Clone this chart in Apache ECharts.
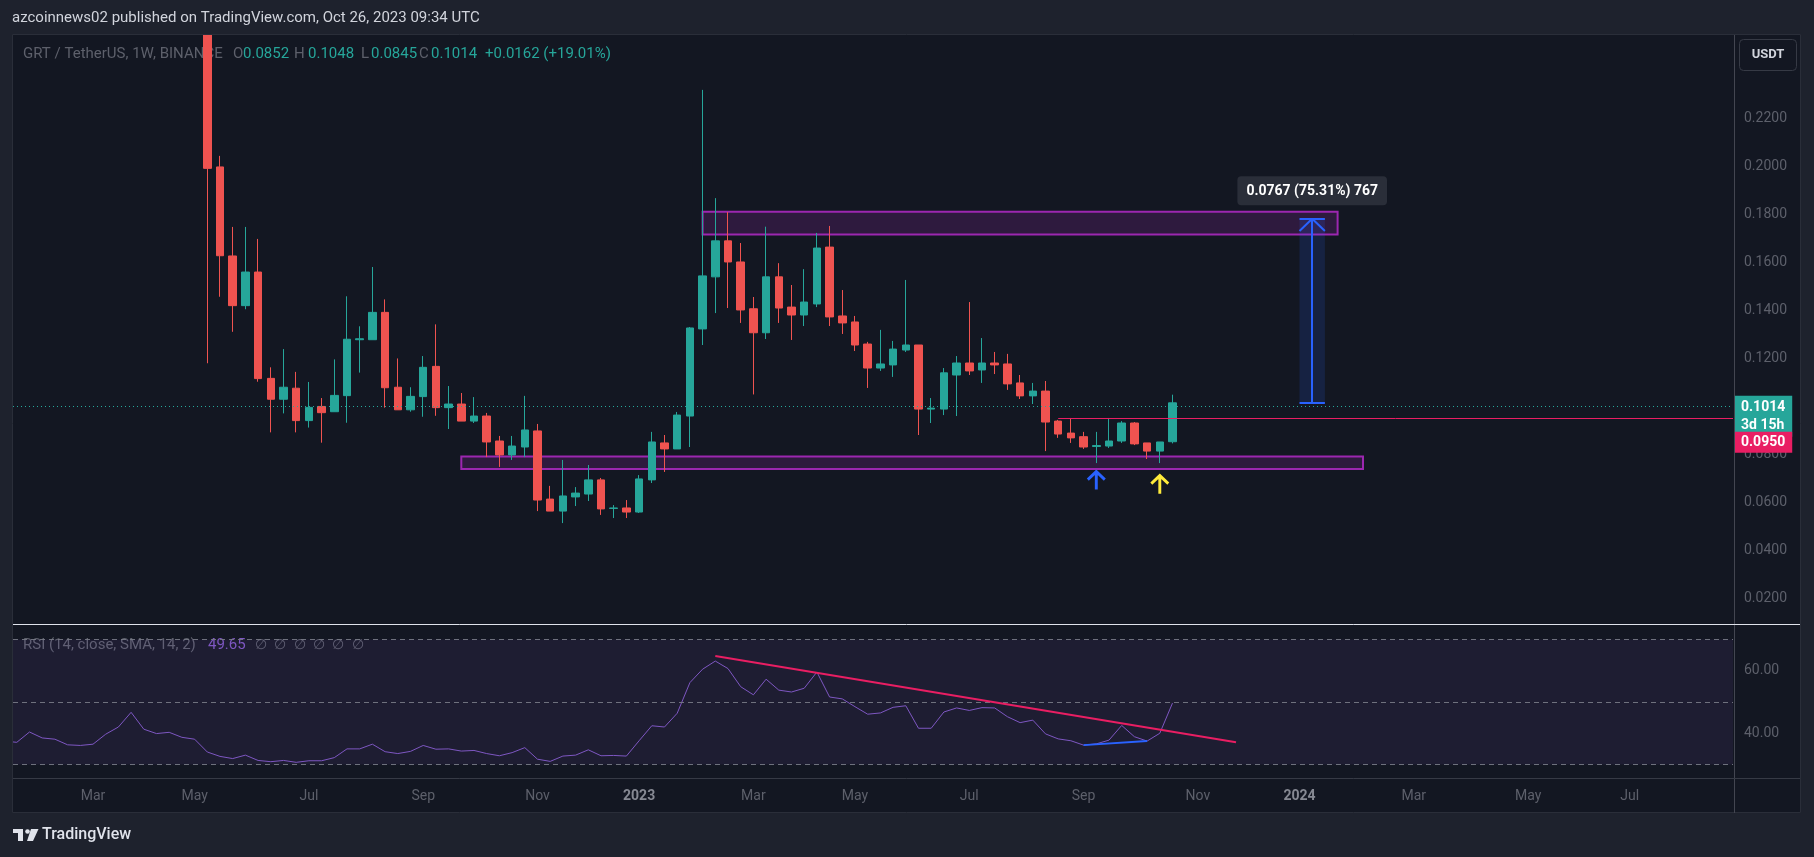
<!DOCTYPE html>
<html>
<head>
<meta charset="utf-8">
<script src="https://cdn.jsdelivr.net/npm/echarts@6.0.0/dist/echarts.min.js"></script>
<style>
html,body{margin:0;padding:0;background:#1e222d;overflow:hidden;}
#chart{width:1814px;height:857px;}
</style>
</head>
<body>
<div id="chart"></div>
<script>
// ------------------------------------------------------------------ data
const firstWeek = '2022-01-17';        // week index 0 (first RSI point)
const candleFirstWeek = '2022-05-09';  // first candle (weekly, Monday open)

const candleOpen = [0.2750,0.1997,0.1626,0.1419,0.1559,0.1116,0.1029,0.1075,0.0940,0.0999,0.0977,0.1044,0.1277,0.1277,0.1391,0.1079,0.0985,0.1040,0.1166,0.0994,0.1009,0.0938,0.0959,0.0855,0.0797,0.0830,0.0897,0.0613,0.0563,0.0622,0.0634,0.0693,0.0574,0.0576,0.0559,0.0693,0.0847,0.0822,0.0959,0.1322,0.1539,0.1689,0.1601,0.1406,0.1306,0.1539,0.1413,0.1380,0.1426,0.1663,0.1376,0.1351,0.1259,0.1159,0.1172,0.1234,0.1255,0.0988,0.0988,0.1130,0.1180,0.1151,0.1180,0.1176,0.1097,0.1043,0.1063,0.0938,0.0888,0.0873,0.0832,0.0834,0.0855,0.0930,0.0847,0.0813,0.0852];
const candleClose = [0.1991,0.1627,0.1419,0.1559,0.1115,0.1029,0.1079,0.0940,0.0995,0.0973,0.1045,0.1279,0.1281,0.1391,0.1077,0.0985,0.1041,0.1162,0.0994,0.1009,0.0938,0.0959,0.0851,0.0797,0.0834,0.0901,0.0609,0.0563,0.0626,0.0638,0.0693,0.0572,0.0576,0.0559,0.0697,0.0851,0.0822,0.0963,0.1326,0.1543,0.1689,0.1601,0.1401,0.1306,0.1539,0.1409,0.1380,0.1434,0.1659,0.1372,0.1347,0.1255,0.1159,0.1176,0.1238,0.1255,0.0988,0.0992,0.1139,0.1180,0.1147,0.1180,0.1172,0.1093,0.1043,0.1063,0.0934,0.0884,0.0868,0.0830,0.0836,0.0855,0.0930,0.0843,0.0813,0.0851,0.1014];
const candleLow = [0.1179,0.1456,0.1310,0.1404,0.1102,0.0891,0.0970,0.0891,0.0911,0.0848,0.0977,0.0931,0.1140,0.1277,0.0994,0.0985,0.0977,0.0956,0.0960,0.0905,0.0938,0.0930,0.0788,0.0747,0.0776,0.0788,0.0563,0.0563,0.0513,0.0584,0.0605,0.0547,0.0534,0.0534,0.0555,0.0680,0.0726,0.0822,0.0830,0.1255,0.1388,0.1409,0.1347,0.1049,0.1280,0.1347,0.1276,0.1334,0.1413,0.1334,0.1301,0.1230,0.1076,0.1147,0.1122,0.1226,0.0880,0.0930,0.0963,0.0959,0.1130,0.1097,0.1134,0.1068,0.1030,0.1009,0.0813,0.0868,0.0847,0.0822,0.0763,0.0826,0.0847,0.0838,0.0780,0.0763,0.0845];
const candleHigh = [0.2900,0.2043,0.1747,0.1747,0.1697,0.1162,0.1238,0.1143,0.1101,0.1034,0.1195,0.1458,0.1333,0.1580,0.1445,0.1199,0.1079,0.1209,0.1341,0.1084,0.1055,0.1038,0.0972,0.0876,0.0876,0.1043,0.0926,0.0668,0.0776,0.0663,0.0755,0.0701,0.0588,0.0609,0.0713,0.0893,0.0880,0.0976,0.1330,0.2318,0.1867,0.1809,0.1680,0.1455,0.1748,0.1596,0.1505,0.1571,0.1722,0.1751,0.1484,0.1376,0.1268,0.1318,0.1272,0.1526,0.1255,0.1034,0.1159,0.1209,0.1434,0.1284,0.1226,0.1218,0.1130,0.1097,0.1105,0.0943,0.0951,0.0893,0.0893,0.0951,0.0938,0.0934,0.0847,0.0851,0.1048];

const rsiValues = [37.5,37.1,40.4,38.5,38.1,36.3,36.1,36.5,39.7,42.0,46.7,41.3,39.9,40.3,38.7,38.1,34.0,32.6,31.9,33.0,31.3,30.9,31.3,30.7,31.2,31.2,32.2,35.0,35.0,36.5,34.1,33.5,34.2,36.1,34.9,35.0,34.3,34.5,33.5,32.8,33.8,35.4,31.7,31.0,32.7,33.0,34.7,32.8,32.9,32.7,37.6,42.4,42.0,46.4,56.2,60.5,63.1,60.7,54.9,52.3,57.3,53.8,53.2,54.4,59.6,51.6,51.0,48.5,46.1,46.5,48.3,48.8,41.6,41.6,46.8,48.1,47.3,48.2,48.1,45.3,43.4,44.2,39.8,38.2,37.6,36.2,36.6,37.8,42.5,38.9,37.5,40.0,49.65];

const priceTicks = [0.02,0.04,0.06,0.08,0.10,0.12,0.14,0.16,0.18,0.20,0.22];
const rsiTicks = [40,60];
const rsiLevels = [70,50,30];
const monthNames = ['Jan','Feb','Mar','Apr','May','Jun','Jul','Aug','Sep','Oct','Nov','Dec'];

const lastClose = 0.1014;
const alertPrice = 0.0950;
const targetPrice = 0.1781;
const arrowHeadPrice = 0.1730;

// drawings: [fromWeek, toWeek, top, bottom]
const supplyZone = ['2023-02-06','2024-01-22',0.1810,0.1715];
const demandZone = ['2022-09-26','2024-02-05',0.0790,0.0738];
const measureWeeks = ['2024-01-01','2024-01-08','2024-01-15'];
const alertFrom = '2023-08-21';
const blueArrow = ['2023-09-11',0.0690];
const yellowArrow = ['2023-10-16',0.0673];
const rsiTrend = [['2023-02-13',64.7],['2023-11-27',37.1]];
const rsiBlue = [['2023-09-04',36.2],['2023-10-09',37.5]];

// ------------------------------------------------------------------ helpers
const W = 7*86400000;
const t0 = Date.parse(firstWeek+'T00:00:00Z');
const wk = d => Math.round((Date.parse(d+'T00:00:00Z')-t0)/W);
const c0 = wk(candleFirstWeek);
const candleData = candleOpen.map((o,j)=>[c0+j,o,candleClose[j],candleLow[j],candleHigh[j]]);
const rsiData = rsiValues.map((v,j)=>[j,v]);

const viewMin = 0.701, viewMax = 136.134;
const timeIdx = [], timeText = {};
for (let i=1;i<=136;i++){
  const d = new Date(t0+i*W);
  if (d.getUTCDate()<=7 && d.getUTCMonth()%2===0){
    timeIdx.push(i);
    timeText[i] = d.getUTCMonth()===0 ? '{y|'+d.getUTCFullYear()+'}' : monthNames[d.getUTCMonth()];
  }
}

const FF = "Roboto, 'Noto Sans', sans-serif";
const UP = '#26a69a', DOWN = '#ef5350', PINK = '#e91e63', BLUE = '#2962ff', PURPLE = '#9c27b0';
const GRAY = '#5d606b';
const arrowPath = 'path://M2,10 L10,2 L18,10 M10,2 L10,20';

const chart = echarts.init(document.getElementById('chart'), null, {renderer:'canvas'});

function txt(x,y,text,fill,size,weight,z){
  return {type:'text', z: z==null?100:z, style:{x:x,y:y,text:text,fill:fill,
    font:(weight||'normal')+' '+size+'px '+FF, textVerticalAlign:'middle', verticalAlign:'middle'}};
}

const graphics = [
  {type:'rect', z:100, shape:{x:0,y:0,width:1814,height:34}, style:{fill:'#1e222d'}},
  {type:'rect', z:100, shape:{x:0,y:813,width:1814,height:44}, style:{fill:'#1e222d'}},
  {type:'rect', z:100, shape:{x:0,y:0,width:12,height:857}, style:{fill:'#1e222d'}},
  {type:'rect', z:100, shape:{x:1801,y:0,width:13,height:857}, style:{fill:'#1e222d'}},
  {type:'rect', z:101, shape:{x:12.5,y:34.5,width:1788,height:778}, style:{fill:'none',stroke:'#2a2e39',lineWidth:1}},
  {type:'line', z:101, shape:{x1:1734.5,y1:35,x2:1734.5,y2:813}, style:{stroke:'#434651',lineWidth:1}},
  {type:'line', z:101, shape:{x1:13,y1:624.5,x2:1800,y2:624.5}, style:{stroke:'#e0e3eb',lineWidth:1}},
  {type:'line', z:101, shape:{x1:13,y1:778.5,x2:1800,y2:778.5}, style:{stroke:'#363a45',lineWidth:1}},
  {type:'rect', z:101, shape:{x:1739.5,y:39.5,width:57,height:31,r:4}, style:{fill:'#131722',stroke:'#363a45',lineWidth:1}},
  {type:'text', z:102, style:{x:1768,y:55,text:'USDT',fill:'#d1d4dc',font:'bold 13px '+FF,textAlign:'center',align:'center',textVerticalAlign:'middle',verticalAlign:'middle'}},
  txt(12,18.5,'azcoinnews02 published on TradingView.com, Oct 26, 2023 09:34 UTC','#d1d4dc',15,'normal',102),
  txt(23,54.5,'GRT / TetherUS, 1W, BINANCE',GRAY,15,'normal',1),
  txt(233,54.5,'O',GRAY,15,'normal',1), txt(243,54.5,'0.0852',UP,15,'normal',1),
  txt(294,54.5,'H',GRAY,15,'normal',1), txt(308,54.5,'0.1048',UP,15,'normal',1),
  txt(361,54.5,'L',GRAY,15,'normal',1), txt(371,54.5,'0.0845',UP,15,'normal',1),
  txt(419,54.5,'C',GRAY,15,'normal',1), txt(431,54.5,'0.1014',UP,15,'normal',1),
  txt(485,54.5,'+0.0162 (+19.01%)',UP,15,'normal',1),
  txt(23,645,'RSI (14, close, SMA, 14, 2)',GRAY,15,'normal',1),
  txt(208,645,'49.65','#7e57c2',15,'normal',1),
  txt(42,835,'TradingView','#e0e3eb',16,'500',102),
  {type:'rect', z:102, shape:{x:13,y:829,width:10,height:4}, style:{fill:'#e0e3eb'}},
  {type:'rect', z:102, shape:{x:18,y:829,width:5,height:12}, style:{fill:'#e0e3eb'}},
  {type:'circle', z:102, shape:{cx:27.5,cy:831.5,r:2.3}, style:{fill:'#e0e3eb'}},
  {type:'polygon', z:102, shape:{points:[[31,829],[38.5,829],[33,841],[27,841]]}, style:{fill:'#e0e3eb'}}
];
for (let j=0;j<6;j++) graphics.push(txt(255+j*19.3,645,'\u2205',GRAY,14,'normal',1));

const lblBox = {show:true, position:'end', distance:1, color:'#ffffff', fontFamily:FF, fontSize:14, fontWeight:'bold', padding:[3,7,2,7]};

const option = {
  backgroundColor:'#131722',
  animation:false,
  grid:[
    {left:13, right:81, top:35, bottom:210.8, outerBoundsMode:'none', containLabel:false},
    {left:13, right:81, top:608.25, bottom:61.25, outerBoundsMode:'none', containLabel:false},
    {left:13, right:81, top:760, bottom:79, outerBoundsMode:'none', containLabel:false}
  ],
  xAxis:[
    {gridIndex:0, type:'value', min:viewMin, max:viewMax, show:false},
    {gridIndex:1, type:'value', min:viewMin, max:viewMax, show:false},
    {gridIndex:2, type:'value', min:viewMin, max:viewMax,
      axisLine:{show:false}, axisTick:{show:false}, splitLine:{show:false},
      axisLabel:{customValues:timeIdx, formatter:v=>timeText[Math.round(v)]||'', margin:11,
        color:GRAY, fontFamily:FF, fontSize:14,
        rich:{y:{color:'#868993', fontWeight:'bold', fontFamily:FF, fontSize:14}}}}
  ],
  yAxis:[
    {gridIndex:0, type:'value', position:'right', min:0, max:0.25467, scale:false,
      axisLine:{show:false}, axisTick:{show:false}, splitLine:{show:false},
      axisLabel:{customValues:priceTicks, formatter:v=>v.toFixed(4), margin:11, color:GRAY, fontFamily:FF, fontSize:14}},
    {gridIndex:1, type:'value', position:'right', min:20, max:80,
      axisLine:{show:false}, axisTick:{show:false}, splitLine:{show:false},
      axisLabel:{customValues:rsiTicks, formatter:v=>v.toFixed(2), margin:11, color:GRAY, fontFamily:FF, fontSize:14}},
    {gridIndex:2, type:'value', show:false, min:0, max:1}
  ],
  graphic:{elements:graphics},
  series:[
    {
      type:'candlestick', xAxisIndex:0, yAxisIndex:0, data:candleData,
      encode:{x:0, y:[1,2,3,4]}, barWidth:8, clip:true,
      itemStyle:{color:UP, color0:DOWN, borderColor:UP, borderColor0:DOWN, borderWidth:1},
      markArea:{silent:true, data:[
        [{coord:[wk(supplyZone[0]),supplyZone[2]], itemStyle:{color:'rgba(156,39,176,0.2)', borderColor:PURPLE, borderWidth:2}},{coord:[wk(supplyZone[1]),supplyZone[3]]}],
        [{coord:[wk(demandZone[0]),demandZone[2]], itemStyle:{color:'rgba(156,39,176,0.2)', borderColor:PURPLE, borderWidth:2}},{coord:[wk(demandZone[1]),demandZone[3]]}],
        [{coord:[wk(measureWeeks[0]),lastClose], itemStyle:{color:'rgba(41,98,255,0.15)', borderWidth:0}},{coord:[wk(measureWeeks[2]),targetPrice]}]
      ]},
      markLine:{silent:true, symbol:['none','none'], label:{show:false}, data:[
        {yAxis:lastClose, lineStyle:{color:UP, type:[1,3], width:1},
          label:Object.assign({}, lblBox, {formatter:'0.1014\n3d 15h', backgroundColor:UP, lineHeight:18, offset:[0,10]})},
        [{coord:[wk(alertFrom),alertPrice], lineStyle:{color:PINK, width:1, type:'solid'},
          label:Object.assign({}, lblBox, {formatter:'0.0950', backgroundColor:PINK, lineHeight:16, offset:[0,24]})},
         {coord:[viewMax,alertPrice]}],
        [{coord:[wk(measureWeeks[1]),lastClose], lineStyle:{color:BLUE,width:2,type:'solid'}},{coord:[wk(measureWeeks[1]),targetPrice]}],
        [{coord:[wk(measureWeeks[0]),targetPrice], lineStyle:{color:BLUE,width:2,type:'solid'}},{coord:[wk(measureWeeks[2]),targetPrice]}],
        [{coord:[wk(measureWeeks[0]),lastClose], lineStyle:{color:BLUE,width:2,type:'solid'}},{coord:[wk(measureWeeks[2]),lastClose]}],
        [{coord:[wk(measureWeeks[0]),arrowHeadPrice], lineStyle:{color:BLUE,width:2,type:'solid'}},{coord:[wk(measureWeeks[1]),targetPrice]}],
        [{coord:[wk(measureWeeks[2]),arrowHeadPrice], lineStyle:{color:BLUE,width:2,type:'solid'}},{coord:[wk(measureWeeks[1]),targetPrice]}]
      ]},
      markPoint:{silent:true, data:[
        {coord:[wk(blueArrow[0]),blueArrow[1]], symbol:arrowPath, symbolSize:[17,18],
          itemStyle:{color:'rgba(0,0,0,0)', borderColor:BLUE, borderWidth:3}, label:{show:false}},
        {coord:[wk(yellowArrow[0]),yellowArrow[1]], symbol:arrowPath, symbolSize:[17,18],
          itemStyle:{color:'rgba(0,0,0,0)', borderColor:'#ffeb3b', borderWidth:3}, label:{show:false}},
        {coord:[wk(measureWeeks[1]),targetPrice], symbol:'rect', symbolSize:1, itemStyle:{color:'rgba(0,0,0,0)'},
          label:{show:true, position:'top', distance:13, formatter:'0.0767 (75.31%) 767',
            backgroundColor:'#2a2e39', borderRadius:4, padding:[8,9,7,9], color:'#ffffff',
            fontFamily:FF, fontSize:14, fontWeight:'bold'}}
      ]}
    },
    {
      type:'line', xAxisIndex:1, yAxisIndex:1, data:rsiData, symbol:'none', showSymbol:false,
      lineStyle:{color:'#7e57c2', width:1}, clip:true, z:3,
      markArea:{silent:true, data:[[{yAxis:30, itemStyle:{color:'rgba(126,87,194,0.1)'}},{yAxis:70}]]},
      markLine:{silent:true, symbol:['none','none'], label:{show:false}, data:[
        ...rsiLevels.map(v=>({yAxis:v, lineStyle:{color:'#787b86', type:[5,4], width:1, opacity:0.9}})),
        [{coord:[wk(rsiTrend[0][0]),rsiTrend[0][1]], lineStyle:{color:PINK,width:2,type:'solid'}},{coord:[wk(rsiTrend[1][0]),rsiTrend[1][1]]}],
        [{coord:[wk(rsiBlue[0][0]),rsiBlue[0][1]], lineStyle:{color:BLUE,width:2,type:'solid'}},{coord:[wk(rsiBlue[1][0]),rsiBlue[1][1]]}]
      ]}
    }
  ]
};
chart.setOption(option);
</script>
</body>
</html>
